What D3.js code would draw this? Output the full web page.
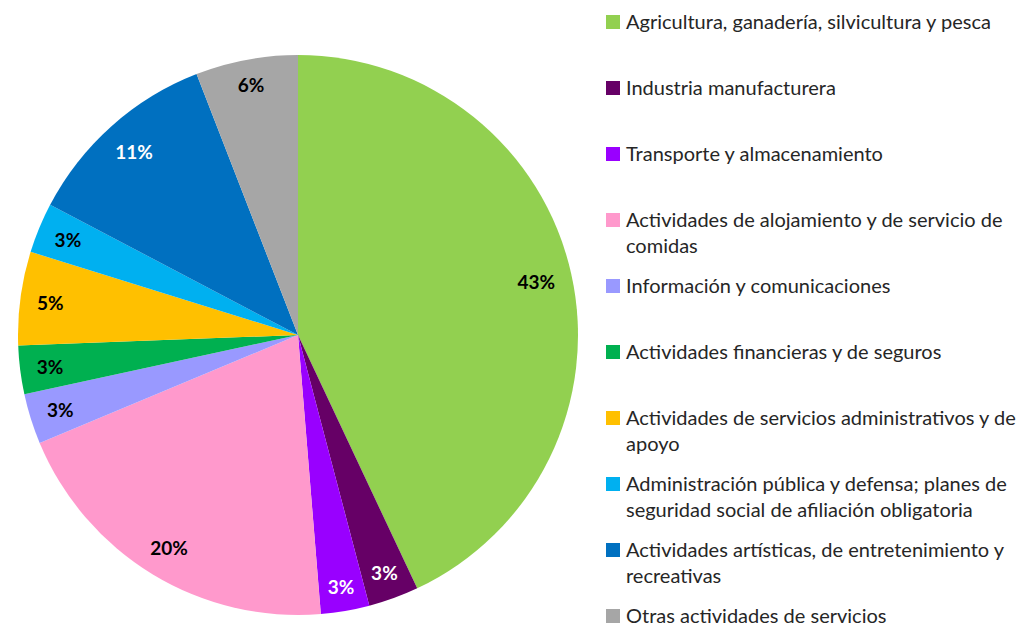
<!DOCTYPE html>
<html>
<head>
<meta charset="utf-8">
<script src="https://cdn.jsdelivr.net/npm/d3@7"></script>
<style>
  html, body { margin: 0; padding: 0; background: #fff; }
  svg { display: block; }
</style>
</head>
<body>
<svg id="chart" width="1016" height="624"></svg>
<script>
// Sector names, each split into the lines shown in the legend
const categories = [
  ["Agricultura, ganadería, silvicultura y pesca"],
  ["Industria manufacturera"],
  ["Transporte y almacenamiento"],
  ["Actividades de alojamiento y de servicio de", "comidas"],
  ["Información y comunicaciones"],
  ["Actividades financieras y de seguros"],
  ["Actividades de servicios administrativos y de", "apoyo"],
  ["Administración pública y defensa; planes de", "seguridad social de afiliación obligatoria"],
  ["Actividades artísticas, de entretenimiento y", "recreativas"],
  ["Otras actividades de servicios"]
];

// Share of each sector, in percent
const shares = [43.0, 2.9, 2.8, 20.0, 2.9, 2.8, 5.4, 2.9, 11.4, 5.9];

// Slice fills and the colour of the percentage printed on each slice
const fills = ["#92D050", "#660066", "#9900FF", "#FF99CC", "#9999FF",
               "#00B050", "#FFC000", "#00B0F0", "#0070C0", "#A6A6A6"];
const labelInk = ["#000", "#fff", "#fff", "#000", "#000",
                  "#000", "#000", "#000", "#fff", "#000"];

const svg = d3.select("#chart");
const cx = 298, cy = 335, radius = 280;

const data = shares.map((v, i) => ({ name: categories[i].join(" "), value: v, i }));

const pie = d3.pie().sort(null).value(d => d.value).startAngle(0).endAngle(2 * Math.PI);
const arcs = pie(data);

const arc = d3.arc().innerRadius(0).outerRadius(radius);

const g = svg.append("g").attr("transform", `translate(${cx},${cy})`);

g.selectAll("path.slice")
  .data(arcs)
  .join("path")
  .attr("class", "slice")
  .attr("d", arc)
  .attr("fill", d => fills[d.data.i]);

// Percentages sit just inside the rim: the label box is pushed inward
// along the slice bisector until its outer edge meets the inner band.
const pct = d3.format(".0%");
const innerEnd = 264;
const labels = g.selectAll("text.pct")
  .data(arcs)
  .join("text")
  .attr("class", "pct")
  .attr("text-anchor", "middle")
  .attr("dominant-baseline", "central")
  .attr("font-family", "Lato, 'Open Sans', sans-serif")
  .attr("font-weight", "bold")
  .attr("font-size", 19)
  .attr("fill", d => labelInk[d.data.i])
  .text(d => pct(d.data.value / 100));

labels.attr("transform", function (d) {
  const mid = (d.startAngle + d.endAngle) / 2;
  const sx = Math.sin(mid), sy = -Math.cos(mid);
  const bb = this.getBBox();
  const hw = bb.width / 2, hh = 7;
  const extent = hw * Math.abs(sx) + hh * Math.abs(sy);
  const r = innerEnd - extent;
  return `translate(${r * sx},${r * sy})`;
});

// Legend: evenly spaced entries, wrapped names continue below the first line
const legend = svg.append("g").attr("transform", "translate(606,0)");
const entryStep = 66, firstBaseline = 29, lineStep = 26, box = 14;

const items = legend.selectAll("g.item")
  .data(data)
  .join("g")
  .attr("class", "item")
  .attr("transform", (d, i) => `translate(0,${firstBaseline + i * entryStep})`);

items.append("rect")
  .attr("x", 0)
  .attr("y", -box)
  .attr("width", box)
  .attr("height", box)
  .attr("fill", d => fills[d.i]);

items.append("text")
  .attr("font-family", "Lato, 'Open Sans', sans-serif")
  .attr("font-size", 20)
  .attr("fill", "#262626")
  .selectAll("tspan")
  .data(d => categories[d.i])
  .join("tspan")
  .attr("x", 20)
  .attr("y", (t, k) => k * lineStep)
  .text(t => t);
</script>
</body>
</html>
